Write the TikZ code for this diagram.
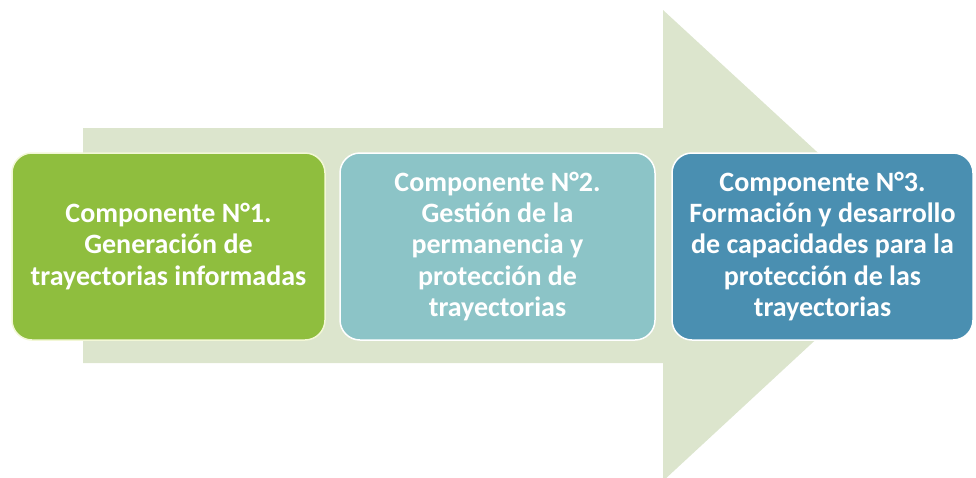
\documentclass[tikz,border=0pt]{standalone}
\usepackage{fontspec}
\setmainfont{Carlito}
\usepackage{tikz}
\usetikzlibrary{positioning}
\definecolor{arrowfill}{HTML}{DCE5CD}
\definecolor{compone}{HTML}{8FBE3E}
\definecolor{comptwo}{HTML}{8CC4C7}
\definecolor{compthree}{HTML}{4A8FB1}
\definecolor{edgeone}{HTML}{F2F7D6}

\begin{document}
\begin{tikzpicture}[x=1pt, y=-1pt, every node/.style={font=\fontsize{28}{31.3}\selectfont\bfseries, align=center, text=white}]
\useasboundingbox (0,0) rectangle (976,477);
% background arrow
\fill[arrowfill] (83,128) -- (663,128) -- (663,10) -- (918,245) -- (663,481) -- (663,363) -- (83,363) -- cycle;
\tikzset{comp/.style={draw=white, line width=1.5pt, rounded corners=20pt, minimum height=187pt, inner sep=4pt}}
\node[comp, fill=compone, draw=edgeone, minimum width=313pt] (c1) at (168.5,246.5)
  {Componente N°1.\\ Generación de\\ trayectorias informadas};
\node[comp, fill=comptwo, minimum width=315pt] (c2) at (497.5,246.5)
  {Componente N°2.\\ Gestión de la\\ permanencia y\\ protección de\\ trayectorias};
\node[comp, fill=compthree, minimum width=301pt] (c3) at (822.5,246.5)
  {Componente N°3.\\ Formación y desarrollo\\ de capacidades para la\\ protección de las\\ trayectorias};
\end{tikzpicture}
\end{document}
